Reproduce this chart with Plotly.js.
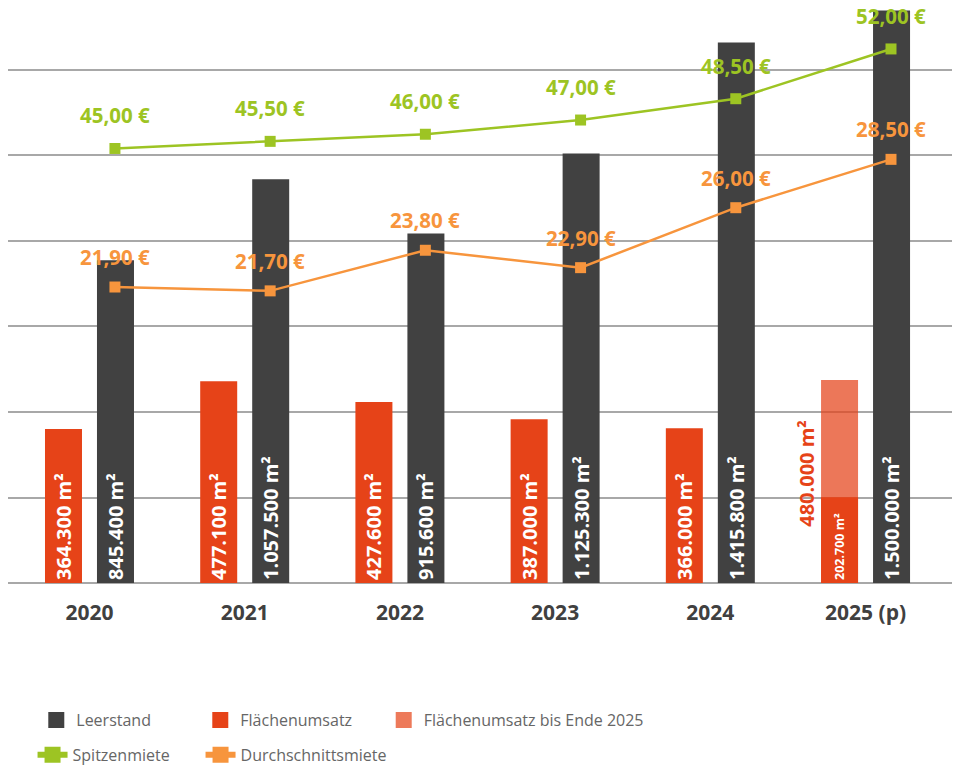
<!DOCTYPE html>
<html>
<head>
<meta charset="utf-8">
<script src="https://cdn.plot.ly/plotly-3.0.1.min.js"></script>
<style>html,body{margin:0;padding:0;background:#fff;}#chart{width:960px;height:767px;}</style>
</head>
<body>
<div id="chart"></div>
<script>
// ---- data ----
const categories = ['2020', '2021', '2022', '2023', '2024', '2025 (p)'];
const leerstand = [845400, 1057500, 915600, 1125300, 1415800, 1500000];
const flaechenumsatz = [364300, 477100, 427600, 387000, 366000, 202700];
const flaechenumsatzBisEnde = [null, null, null, null, null, 480000];
const spitzenmiete = [45.00, 45.50, 46.00, 47.00, 48.50, 52.00];
const durchschnittsmiete = [21.90, 21.70, 23.80, 22.90, 26.00, 28.50];
const seriesNames = ['Leerstand', 'Flächenumsatz', 'Flächenumsatz bis Ende 2025', 'Spitzenmiete', 'Durchschnittsmiete'];

// ---- styles ----
const C_DARK = '#414141';
const C_RED = '#e64318';
const C_LIGHT = 'rgba(229,66,25,0.72)';
const C_GREEN = '#9dc423';
const C_ORANGE = '#f7953d';
const FONT = 'Open Sans, DejaVu Sans, sans-serif';

const fmtM2 = v => String(v).replace(/\B(?=(\d{3})+(?!\d))/g, '.') + ' m²';
const fmtEur = v => v.toFixed(2).replace('.', ',') + ' €';

const BAR_W = 0.2384;
const OFF_RED = -0.2867;
const OFF_DARK = 0.0483;

const traces = [
  {
    type: 'bar', name: seriesNames[2], x: categories, y: flaechenumsatzBisEnde,
    yaxis: 'y3', width: BAR_W, offset: OFF_RED,
    marker: {color: C_LIGHT}, showlegend: false, hoverinfo: 'skip'
  },
  {
    type: 'bar', name: seriesNames[1], x: categories, y: flaechenumsatz,
    yaxis: 'y3', width: BAR_W, offset: OFF_RED,
    marker: {color: C_RED}, showlegend: false, hoverinfo: 'skip',
    text: flaechenumsatz.map(fmtM2), textposition: 'inside', textangle: -90,
    insidetextanchor: 'start', constraintext: 'none',
    textfont: {family: FONT, color: '#ffffff', size: [20, 20, 20, 20, 20, 12.5], weight: 'bold'}
  },
  {
    type: 'bar', name: seriesNames[0], x: categories, y: leerstand,
    yaxis: 'y2', width: BAR_W, offset: OFF_DARK,
    marker: {color: C_DARK}, showlegend: false, hoverinfo: 'skip',
    text: leerstand.map(fmtM2), textposition: 'inside', textangle: -90,
    insidetextanchor: 'start', constraintext: 'none',
    textfont: {family: FONT, color: '#ffffff', size: 20, weight: 'bold'}
  },
  {
    type: 'scatter', mode: 'lines+markers', name: seriesNames[3], x: categories, y: spitzenmiete,
    xaxis: 'x2', yaxis: 'y4', line: {color: C_GREEN, width: 2.5},
    marker: {symbol: 'square', size: 11, color: C_GREEN}, showlegend: false, hoverinfo: 'skip'
  },
  {
    type: 'scatter', mode: 'lines+markers', name: seriesNames[4], x: categories, y: durchschnittsmiete,
    xaxis: 'x2', yaxis: 'y5', line: {color: C_ORANGE, width: 2.5},
    marker: {symbol: 'square', size: 11, color: C_ORANGE}, showlegend: false, hoverinfo: 'skip'
  },
  // legend entries
  {type: 'scatter', mode: 'markers', name: seriesNames[0], x: [null], y: [null], legend: 'legend',
   marker: {symbol: 'square', size: 16, color: C_DARK}, hoverinfo: 'skip'},
  {type: 'scatter', mode: 'markers', name: seriesNames[1], x: [null], y: [null], legend: 'legend',
   marker: {symbol: 'square', size: 16, color: C_RED}, hoverinfo: 'skip'},
  {type: 'scatter', mode: 'markers', name: seriesNames[2], x: [null], y: [null], legend: 'legend2',
   marker: {symbol: 'square', size: 16, color: '#ed7a5a'}, hoverinfo: 'skip'},
  {type: 'scatter', mode: 'lines+markers', name: seriesNames[3], x: [null], y: [null], legend: 'legend3',
   line: {color: C_GREEN, width: 6}, marker: {symbol: 'square', size: 16, color: C_GREEN}, hoverinfo: 'skip'},
  {type: 'scatter', mode: 'lines+markers', name: seriesNames[4], x: [null], y: [null], legend: 'legend4',
   line: {color: C_ORANGE, width: 6}, marker: {symbol: 'square', size: 16, color: C_ORANGE}, hoverinfo: 'skip'}
];

const annotations = [];
categories.forEach((c, i) => {
  annotations.push({
    xref: 'x2', yref: 'y4', x: i, y: spitzenmiete[i], yshift: 33, showarrow: false,
    text: fmtEur(spitzenmiete[i]), font: {family: FONT, size: 20.5, color: C_GREEN, weight: 'bold'}
  });
  annotations.push({
    xref: 'x2', yref: 'y5', x: i, y: durchschnittsmiete[i], yshift: 30, showarrow: false,
    text: fmtEur(durchschnittsmiete[i]), font: {family: FONT, size: 20.5, color: C_ORANGE, weight: 'bold'}
  });
});
// total label for 2025 (incl. rest of year)
annotations.push({
  xref: 'x', yref: 'y3', x: categories.length - 1, y: flaechenumsatz[5], xshift: -59, yshift: 24,
  textangle: -90, showarrow: false, text: fmtM2(flaechenumsatzBisEnde[5]),
  font: {family: FONT, size: 20, color: C_RED, weight: 'bold'}
});

const legendBase = {
  orientation: 'h', xref: 'container', yref: 'container', xanchor: 'left', yanchor: 'middle',
  bgcolor: 'rgba(0,0,0,0)',
  font: {family: FONT, size: 16, color: '#666666'},
  itemclick: false, itemdoubleclick: false, tracegroupgap: 0
};

const layout = {
  width: 960, height: 767,
  margin: {l: 8, r: 8, t: 5, b: 180, autoexpand: false},
  paper_bgcolor: '#ffffff', plot_bgcolor: '#ffffff',
  barmode: 'overlay',
  font: {family: FONT},
  showlegend: true,
  xaxis: {
    type: 'category', categoryorder: 'array', categoryarray: categories,
    range: [-0.525, 5.557], showgrid: false, zeroline: false, showline: false,
    ticks: 'outside', ticklen: 7, tickcolor: 'rgba(0,0,0,0)',
    tickfont: {family: FONT, size: 21, color: '#404040', weight: 'bold'}, fixedrange: true
  },
  xaxis2: {
    type: 'category', categoryorder: 'array', categoryarray: categories,
    range: [-0.689, 5.393], overlaying: 'x', visible: false, fixedrange: true
  },
  yaxis: {
    range: [-0.0468, 6.760], tick0: 0, dtick: 1, showgrid: true, gridcolor: '#a8a8a8', gridwidth: 2,
    zeroline: true, zerolinecolor: '#a8a8a8', zerolinewidth: 2, showticklabels: false, ticks: '',
    showline: false, fixedrange: true
  },
  yaxis2: {overlaying: 'y', range: [-10480, 1514360], visible: false, showgrid: false, zeroline: false},
  yaxis3: {overlaying: 'y', range: [-9456, 1366392], visible: false, showgrid: false, zeroline: false},
  yaxis4: {overlaying: 'y', anchor: 'x2', range: [14.16, 55.09], visible: false, showgrid: false, zeroline: false},
  yaxis5: {overlaying: 'y', anchor: 'x2', range: [6.39, 36.48], visible: false, showgrid: false, zeroline: false},
  legend: Object.assign({}, legendBase, {x: 0.0378, y: 0.0613, entrywidthmode: 'pixels', entrywidth: 119}),
  legend2: Object.assign({}, legendBase, {x: 0.3997, y: 0.0613}),
  legend3: Object.assign({}, legendBase, {x: 0.0339, y: 0.0157}),
  legend4: Object.assign({}, legendBase, {x: 0.2089, y: 0.0157}),
  annotations: annotations
};

Plotly.newPlot('chart', traces, layout, {displayModeBar: false, staticPlot: true});
</script>
</body>
</html>
